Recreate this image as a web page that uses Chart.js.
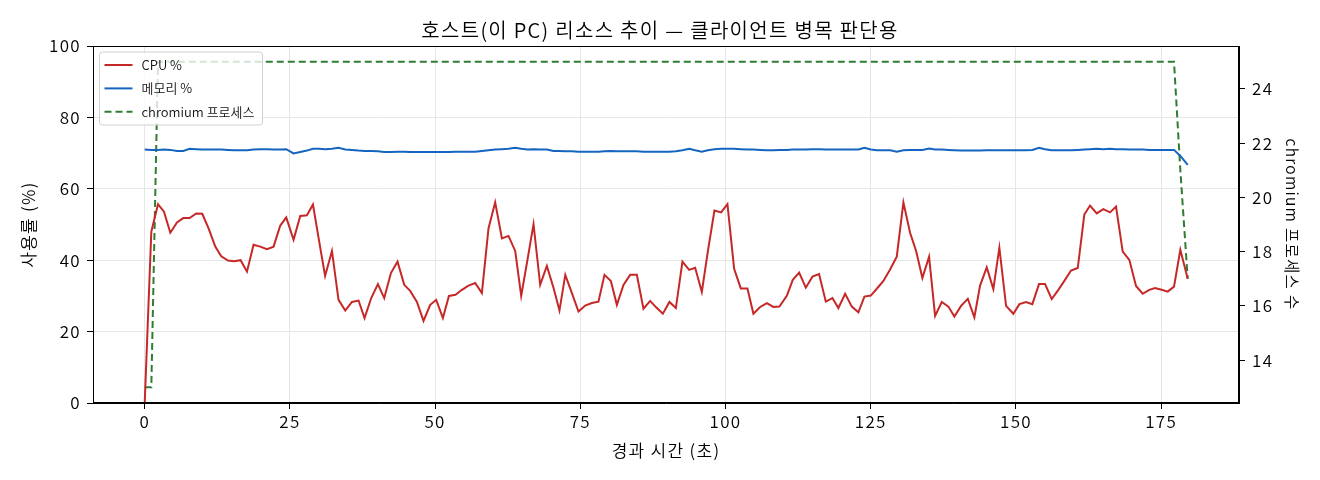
<!DOCTYPE html>
<html>
<head>
    <title>호스트 리소스 추이</title>
    <meta charset="UTF-8">
    <script src="https://cdn.jsdelivr.net/npm/chart.js"></script>
    <style>
        body {
            margin: 0;
            background-color: #fff;
        }
        .chart-box {
            width: 1320px;
            height: 480px;
        }
    </style>
</head>
<body>
    <div class="chart-box">
        <canvas id="recursoChart" width="1320" height="480"></canvas>
    </div>

    <script>
        // Tempo decorrido (s) de cada amostra
        var tempos = [
            0, 1.14, 2.29, 3.32, 4.41, 5.56, 6.64, 7.73, 8.88, 9.91,
            11.0, 12.15, 13.18, 14.34, 15.42, 16.51, 17.61, 18.74, 19.9, 21.05,
            22.19, 23.34, 24.37, 25.63, 26.78, 27.93, 28.97, 30.0, 31.06, 32.24,
            33.37, 34.53, 35.68, 36.82, 37.85, 39.0, 40.15, 41.24, 42.39, 43.53,
            44.68, 45.71, 46.87, 48.0, 49.16, 50.19, 51.34, 52.38, 53.51, 54.61,
            55.75, 56.9, 58.05, 59.19, 60.34, 61.5, 62.63, 63.79, 64.82, 65.9,
            66.94, 68.09, 69.24, 70.38, 71.41, 72.41, 73.55, 74.68, 75.84, 76.99,
            78.12, 79.16, 80.26, 81.29, 82.43, 83.58, 84.73, 85.87, 87.02, 88.05,
            89.21, 90.34, 91.45, 92.58, 93.74, 94.77, 95.92, 96.95, 98.09, 99.24,
            100.33, 101.48, 102.63, 103.77, 104.8, 105.96, 107.11, 108.24, 109.28, 110.55,
            111.58, 112.67, 113.82, 114.96, 116.1, 117.26, 118.4, 119.43, 120.59, 121.74,
            122.87, 123.91, 125.01, 126.04, 127.18, 128.33, 129.48, 130.62, 131.77, 132.81,
            133.89, 135.04, 136.08, 137.23, 138.37, 139.4, 140.55, 141.71, 142.84, 143.82,
            144.97, 146.11, 147.14, 148.3, 149.55, 150.59, 151.74, 152.82, 153.97, 155.01,
            156.16, 157.3, 158.33, 159.48, 160.64, 161.77, 162.75, 163.91, 165.04, 166.2,
            167.23, 168.38, 169.52, 170.67, 171.82, 172.96, 173.94, 175.09, 176.13, 177.21,
            178.3, 179.57
        ];

        // CPU %
        var cpu = [
            0, 48.0, 55.7, 53.6, 47.7, 50.6, 51.8, 51.8, 53.1, 53.0,
            48.9, 43.8, 41.1, 39.9, 39.7, 40.0, 36.8, 44.3, 43.8, 43.1,
            43.8, 49.7, 52.0, 45.7, 52.4, 52.6, 55.6, 45.6, 35.6, 42.6,
            28.9, 25.9, 28.3, 28.7, 23.8, 29.4, 33.3, 29.4, 36.4, 39.6,
            33.1, 31.4, 28.3, 23.0, 27.5, 28.9, 23.8, 30.0, 30.3, 31.7,
            32.9, 33.6, 30.8, 48.9, 56.2, 46.1, 46.8, 42.6, 30.0, 40.1,
            50.1, 33.1, 38.4, 32.3, 25.9, 35.9, 30.8, 25.6, 27.3, 28.0,
            28.4, 35.9, 34.2, 27.5, 33.1, 35.9, 35.9, 26.4, 28.6, 26.8,
            25.0, 28.3, 26.6, 39.6, 37.3, 37.9, 31.1, 42.4, 53.9, 53.4,
            55.7, 37.6, 32.1, 32.1, 25.0, 26.9, 28.0, 26.9, 27.0, 30.0,
            34.5, 36.5, 32.3, 35.4, 36.1, 28.4, 29.4, 26.6, 30.6, 27.0,
            25.4, 29.8, 30.1, 32.0, 34.2, 37.4, 41.0, 56.2, 47.7, 42.6,
            35.0, 41.0, 24.4, 28.3, 27.0, 24.2, 27.2, 29.2, 24.0, 32.9,
            38.0, 31.9, 43.5, 27.2, 25.0, 27.7, 28.3, 27.7, 33.3, 33.3,
            29.1, 31.7, 34.2, 37.1, 37.8, 52.8, 55.3, 53.1, 54.3, 53.4,
            55.0, 42.4, 40.1, 32.8, 30.6, 31.7, 32.2, 31.7, 31.2, 32.6,
            42.9, 34.8
        ];

        // Memória %
        var memoria = [
            71.0, 70.9, 70.9, 71.0, 70.9, 70.6, 70.6, 71.2, 71.1, 71.0,
            71.0, 71.0, 71.0, 70.9, 70.8, 70.8, 70.8, 71.0, 71.1, 71.1,
            71.0, 71.0, 71.1, 69.9, 70.3, 70.7, 71.2, 71.2, 71.1, 71.2,
            71.5, 71.0, 70.9, 70.7, 70.6, 70.6, 70.5, 70.3, 70.3, 70.4,
            70.4, 70.3, 70.3, 70.3, 70.3, 70.3, 70.3, 70.3, 70.4, 70.4,
            70.4, 70.4, 70.6, 70.8, 71.0, 71.1, 71.2, 71.5, 71.2, 71.0,
            71.1, 71.0, 71.0, 70.6, 70.6, 70.5, 70.5, 70.4, 70.4, 70.4,
            70.4, 70.5, 70.6, 70.5, 70.5, 70.5, 70.5, 70.4, 70.4, 70.4,
            70.4, 70.4, 70.5, 70.8, 71.2, 70.8, 70.4, 70.8, 71.1, 71.2,
            71.2, 71.2, 71.1, 71.0, 71.0, 70.9, 70.8, 70.8, 70.9, 70.9,
            71.0, 71.0, 71.0, 71.1, 71.1, 71.0, 71.0, 71.0, 71.0, 71.0,
            71.0, 71.5, 71.0, 70.8, 70.8, 70.8, 70.4, 70.8, 70.9, 70.9,
            70.9, 71.3, 71.0, 71.0, 70.9, 70.8, 70.7, 70.7, 70.7, 70.7,
            70.8, 70.8, 70.8, 70.8, 70.8, 70.8, 70.8, 70.9, 71.5, 71.1,
            70.8, 70.8, 70.8, 70.8, 70.9, 71.0, 71.1, 71.2, 71.1, 71.2,
            71.1, 71.1, 71.0, 71.0, 71.0, 70.9, 70.9, 70.9, 70.9, 70.9,
            69.2, 66.7
        ];

        // Processos chromium (só os pontos onde a contagem muda)
        var temposProc = [0, 1.14, 2.29, 177.21, 178.3, 179.57];
        var processos = [13, 13, 25, 25, 21, 17];

        // Marcas dos eixos
        var ticksX = [0, 25, 50, 75, 100, 125, 150, 175];
        var ticksUso = [0, 20, 40, 60, 80, 100];
        var ticksProc = [14, 16, 18, 20, 22, 24];

        var fonte = "'Noto Sans CJK KR', 'Noto Sans', sans-serif";
        Chart.defaults.font.family = fonte;
        Chart.defaults.font.weight = '350';
        Chart.defaults.color = '#000';

        function pontos(xs, ys) {
            return xs.map(function(x, i) { return { x: x, y: ys[i] }; });
        }

        function fixarTicks(lista) {
            return function(scale) {
                scale.ticks = lista.map(function(v) { return { value: v }; });
            };
        }

        // Texto um pouco mais espaçado (fonte original é mais larga)
        var espacamento = {
            id: 'espacamento',
            beforeDraw: function(chart) {
                chart.ctx.letterSpacing = '1.3px';
            }
        };

        // Moldura e legenda dentro da área do gráfico
        var molduraLegenda = {
            id: 'molduraLegenda',
            afterDatasetsDraw: function(chart) {
                var ctx = chart.ctx;
                var a = chart.chartArea;
                ctx.save();
                ctx.letterSpacing = '0px';

                // legenda (canto superior esquerdo)
                var lx = 99.5, ly = 52, lw = 163, lh = 73;
                ctx.beginPath();
                ctx.roundRect(lx, ly, lw, lh, 3);
                ctx.fillStyle = 'rgba(255,255,255,0.8)';
                ctx.fill();
                ctx.strokeStyle = '#d0d0d0';
                ctx.lineWidth = 1;
                ctx.stroke();

                ctx.font = '350 13px ' + fonte;
                ctx.textBaseline = 'middle';
                chart.data.datasets.forEach(function(ds, i) {
                    var y = ly + 13 + i * 23.4;
                    ctx.beginPath();
                    ctx.setLineDash(ds.borderDash || []);
                    ctx.strokeStyle = ds.borderColor;
                    ctx.lineWidth = ds.borderWidth;
                    ctx.moveTo(lx + 5, y);
                    ctx.lineTo(lx + 33, y);
                    ctx.stroke();
                    ctx.setLineDash([]);
                    ctx.fillStyle = '#111';
                    ctx.fillText(ds.label, lx + 42, y);
                });

                // borda completa do eixo
                ctx.strokeStyle = '#000';
                ctx.lineWidth = 1;
                ctx.strokeRect(a.left + 0.5, a.top + 0.5, a.right - a.left - 1, a.bottom - a.top - 1);
                ctx.restore();
            }
        };

        var ctx = document.getElementById('recursoChart').getContext('2d');
        var chart = new Chart(ctx, {
            type: 'line',
            data: {
                datasets: [{
                    label: 'CPU %',
                    data: pontos(tempos, cpu),
                    borderColor: '#c62828',
                    borderWidth: 2,
                    pointRadius: 0,
                    yAxisID: 'y'
                }, {
                    label: '메모리 %',
                    data: pontos(tempos, memoria),
                    borderColor: '#1565c0',
                    borderWidth: 2,
                    pointRadius: 0,
                    yAxisID: 'y'
                }, {
                    label: 'chromium 프로세스',
                    data: pontos(temposProc, processos),
                    borderColor: '#2e7d32',
                    borderWidth: 2,
                    borderDash: [7, 4],
                    pointRadius: 0,
                    yAxisID: 'y2'
                }]
            },
            options: {
                responsive: false,
                animation: false,
                devicePixelRatio: 1,
                layout: { padding: 0 },
                plugins: {
                    legend: { display: false },
                    tooltip: { enabled: false },
                    title: {
                        display: true,
                        text: '호스트(이 PC) 리소스 추이 — 클라이언트 병목 판단용',
                        color: '#000',
                        font: { size: 20, weight: '350' },
                        padding: { top: 18, bottom: 4 }
                    }
                },
                scales: {
                    x: {
                        type: 'linear',
                        min: -8.9,
                        max: 188.4,
                        afterBuildTicks: fixarTicks(ticksX),
                        afterFit: function(s) { s.height = 77; },
                        grid: { color: '#e6e6e6', tickColor: '#000', tickLength: 6 },
                        border: { color: '#000' },
                        ticks: { font: { size: 17 }, padding: 2, maxRotation: 0 },
                        title: {
                            display: true,
                            text: '경과 시간 (초)',
                            font: { size: 17 },
                            padding: { bottom: 19 }
                        }
                    },
                    y: {
                        position: 'left',
                        min: 0,
                        max: 100,
                        afterBuildTicks: fixarTicks(ticksUso),
                        afterFit: function(s) { s.width = 93; },
                        grid: { color: '#e6e6e6', tickColor: '#000', tickLength: 6 },
                        border: { color: '#000' },
                        ticks: { font: { size: 17 }, padding: 6 },
                        title: {
                            display: true,
                            text: '사용률 (%)',
                            font: { size: 17 },
                            padding: { top: 18 }
                        }
                    },
                    y2: {
                        position: 'right',
                        min: 12.42,
                        max: 25.58,
                        afterBuildTicks: fixarTicks(ticksProc),
                        afterFit: function(s) { s.width = 81; },
                        grid: { drawOnChartArea: false, tickColor: '#000', tickLength: 6 },
                        border: { color: '#000' },
                        ticks: { font: { size: 17 }, padding: 7 },
                        title: {
                            display: true,
                            text: 'chromium 프로세스 수',
                            font: { size: 15.5 },
                            padding: { top: 19 }
                        }
                    }
                }
            },
            plugins: [espacamento, molduraLegenda]
        });
    </script>
</body>
</html>
